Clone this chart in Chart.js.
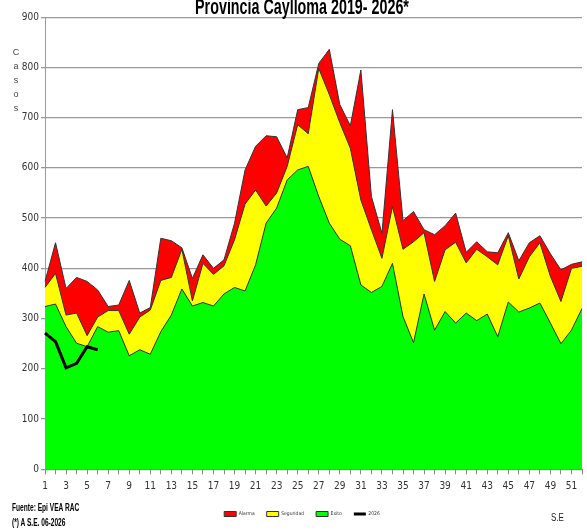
<!DOCTYPE html>
<html lang="es">
<head>
    <meta charset="utf-8">
    <!-- Chart.js -->
    <script src="https://cdn.jsdelivr.net/npm/chart.js"></script>
    <style>
        html, body {
            margin: 0;
            padding: 0;
            overflow: hidden;
            background: #fff;
        }
        body {
            width: 587px;
            height: 531px;
            position: relative;
            font-family: "Liberation Sans", Arial, sans-serif;
        }
        #wrap {
            position: absolute;
            left: 16px;
            top: -3px;
            width: 572px;
            height: 534px;
        }
        #titulo {
            position: absolute;
            left: 0;
            top: -4px;
            width: 604px;
            text-align: center;
            font-size: 22px;
            line-height: 22px;
            font-weight: bold;
            color: #000;
            transform: scaleX(0.65);
            transform-origin: 302px 0;
            white-space: nowrap;
        }
        #casos {
            position: absolute;
            left: 11px;
            top: 45px;
            width: 10px;
            font-size: 9px;
            line-height: 14px;
            text-align: center;
            color: #444;
        }
        #fuente {
            position: absolute;
            left: 12px;
            top: 500px;
            font-size: 10px;
            font-weight: bold;
            line-height: 15px;
            color: #000;
            transform: scaleX(0.66);
            transform-origin: 0 0;
            white-space: nowrap;
        }
        #se {
            position: absolute;
            left: 551px;
            top: 512px;
            font-size: 10px;
            color: #222;
            transform: scaleX(0.8);
            transform-origin: 0 0;
        }
    </style>
</head>
<body>
    <div id="wrap">
        <canvas id="myChart"></canvas>
    </div>
    <div id="titulo">Provincia Caylloma 2019- 2026*</div>
    <div id="casos">C<br>a<br>s<br>o<br>s</div>
    <div id="fuente">Fuente: Epi VEA RAC<br>(*) A S.E. 06-2026</div>
    <div id="se">S.E</div>

    <script>
        const semanas = ['1','2','3','4','5','6','7','8','9','10','11','12','13','14','15','16','17','18','19','20',
            '21','22','23','24','25','26','27','28','29','30','31','32','33','34','35','36','37','38','39','40',
            '41','42','43','44','45','46','47','48','49','50','51','52'];

        // canal endemico (limites superiores de cada zona)
        const alarma = [374,451,360,382,374,357,324,327,376,311,322,460,455,441,380,427,400,417,490,596,
            643,664,662,620,716,720,808,836,726,684,795,543,470,716,495,513,477,467,485,510,
            432,453,433,431,471,415,451,465,429,397,408,413];
        const seguridad = [362,390,307,311,266,303,316,316,269,303,317,376,382,438,335,410,388,405,457,528,
            556,524,550,603,686,668,798,746,690,639,536,477,420,523,438,453,471,374,437,452,
            411,438,423,407,465,379,423,451,384,334,400,404];
        const exito = [324,329,284,251,244,284,273,276,226,238,229,274,307,359,325,332,325,349,362,355,
            407,490,520,576,596,603,543,490,458,445,367,352,364,410,304,252,349,277,314,291,
            311,296,309,264,333,313,321,331,291,250,277,320];
        const casos2026 = [271,254,202,211,244,238];

        const fuente = '"Liberation Sans Narrow", "Arial Narrow", "DejaVu Sans Condensed", sans-serif';

        const ctx = document.getElementById('myChart').getContext('2d');

        const chart = new Chart(ctx, {
            type: 'line',
            data: {
                labels: semanas,
                datasets: [{
                    label: 'Alarma',
                    data: alarma,
                    backgroundColor: '#ff0000',
                    borderColor: '#333',
                    borderWidth: 1,
                    fill: 'origin',
                    pointRadius: 0,
                    tension: 0,
                    pointStyle: 'rect',
                    order: 4
                }, {
                    label: 'Seguridad',
                    data: seguridad,
                    backgroundColor: '#ffff00',
                    borderColor: '#333',
                    borderWidth: 1,
                    fill: 'origin',
                    pointRadius: 0,
                    tension: 0,
                    pointStyle: 'rect',
                    order: 3
                }, {
                    label: 'Exito',
                    data: exito,
                    backgroundColor: '#00ff00',
                    borderColor: '#333',
                    borderWidth: 1,
                    fill: 'origin',
                    pointRadius: 0,
                    tension: 0,
                    pointStyle: 'rect',
                    order: 2
                }, {
                    label: '2026',
                    data: casos2026,
                    backgroundColor: '#000',
                    borderColor: '#000',
                    borderWidth: 3,
                    fill: false,
                    pointRadius: 0,
                    tension: 0,
                    pointStyle: 'line',
                    order: 1
                }]
            },
            options: {
                responsive: true,
                maintainAspectRatio: false,
                animation: false,
                layout: {
                    padding: { top: 20.2, right: 0, bottom: 4.5, left: 0 }
                },
                plugins: {
                    title: { display: false },
                    legend: {
                        position: 'bottom',
                        reverse: true,
                        labels: {
                            usePointStyle: true,
                            pointStyleWidth: 12,
                            boxHeight: 5,
                            padding: 12,
                            color: '#333',
                            font: { family: fuente, size: 5 }
                        }
                    },
                    tooltip: { enabled: false }
                },
                scales: {
                    x: {
                        afterFit: function(scale) { scale.height = 30.2; },
                        grid: {
                            drawOnChartArea: false,
                            drawTicks: true,
                            tickLength: 5,
                            color: '#888'
                        },
                        border: { color: '#888', width: 1 },
                        ticks: {
                            autoSkip: false,
                            maxRotation: 0,
                            minRotation: 0,
                            padding: 6,
                            color: '#333',
                            font: { family: fuente, size: 10 },
                            callback: function(val, idx) {
                                return idx % 2 === 0 ? semanas[idx] : '';
                            }
                        }
                    },
                    y: {
                        min: 0,
                        max: 900,
                        afterFit: function(scale) { scale.width = 29; },
                        grid: {
                            color: '#999',
                            lineWidth: 1.3,
                            tickLength: 4
                        },
                        border: { color: '#999', width: 1 },
                        ticks: {
                            stepSize: 100,
                            padding: 2,
                            color: '#333',
                            font: { family: fuente, size: 10 }
                        }
                    }
                }
            }
        });
    </script>
</body>
</html>
